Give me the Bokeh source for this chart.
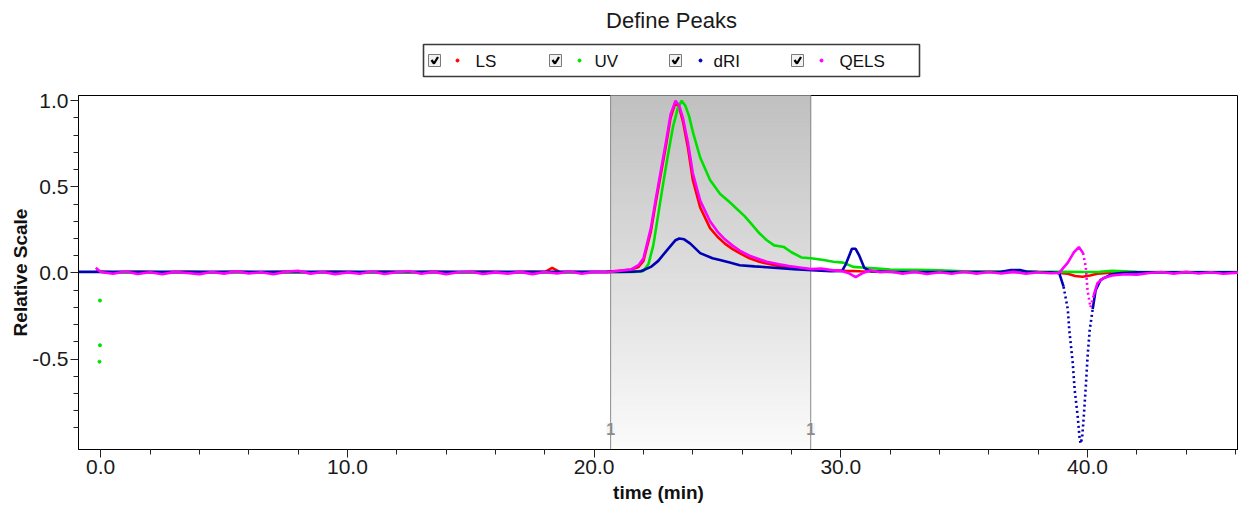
import numpy as np
from bokeh.plotting import figure
from bokeh.models import Range1d, FixedTicker, PrintfTickFormatter, Label
from bokeh.layouts import column
from bokeh.embed import file_html
from bokeh.resources import INLINE
from bokeh.core.properties import value

# ---------------- data ----------------
series_names = ["LS", "UV", "dRI", "QELS"]
series_colors = ["#ff0000", "#00e000", "#0000b4", "#ff00ff"]

peak_start = 20.67
peak_end = 28.78
peak_label = "1"

ls_time = [-0.2, 0.5, 1.5, 2.5, 3.5, 4.5, 5.5, 6.5, 7.5, 8.5,
           9.5, 10.5, 11.5, 12.5, 13.5, 14.5, 15.5, 16.5, 17.5, 18.0,
           18.3, 18.6, 19.5, 20.5, 21.0, 21.5, 21.8, 22.0, 22.3, 22.5,
           22.7, 22.9, 23.1, 23.3, 23.45, 23.6, 23.8, 24.0, 24.3, 24.7,
           25.0, 25.3, 25.6, 25.9, 26.3, 26.7, 27.0, 27.5, 27.9, 28.4,
           28.8, 29.5, 30.2, 30.8, 31.5, 32.5, 33.5, 34.5, 35.5, 36.5,
           37.5, 38.5, 39.2, 39.5, 39.8, 40.1, 40.4, 40.8, 41.5, 42.5,
           43.5, 44.5, 45.5, 46.2]
ls_value = [0.008, 0.004, 0.007, 0.003, 0.006, 0.004, 0.007, 0.003, 0.006, 0.004,
            0.007, 0.003, 0.006, 0.004, 0.007, 0.004, 0.006, 0.003, 0.006, 0.005,
            0.03, 0.006, 0.005, 0.007, 0.012, 0.02, 0.035, 0.07, 0.24, 0.41,
            0.57, 0.73, 0.9, 0.99, 0.96, 0.88, 0.73, 0.54, 0.38, 0.26,
            0.21, 0.17, 0.14, 0.115, 0.085, 0.065, 0.055, 0.04, 0.033, 0.025,
            0.02, 0.015, 0.012, 0.01, 0.008, 0.007, 0.006, 0.006, 0.005, 0.005,
            0.005, 0.004, -0.005, -0.018, -0.022, -0.015, -0.005, 0.0, 0.003, 0.004,
            0.004, 0.004, 0.004, 0.004]

uv_start_time = [-0.05, -0.03, -0.03]
uv_start_value = [-0.515, -0.42, -0.16]

uv_time = [0.1, 1.0, 2.0, 3.0, 4.0, 5.0, 6.0, 7.0, 8.0, 9.0,
           10.0, 11.0, 12.0, 13.0, 14.0, 15.0, 16.0, 17.0, 18.0, 19.0,
           20.0, 21.0, 21.6, 22.0, 22.2, 22.4, 22.6, 22.8, 23.0, 23.2,
           23.4, 23.55, 23.7, 23.85, 24.0, 24.3, 24.7, 25.1, 25.5, 25.8,
           26.1, 26.4, 26.7, 27.0, 27.3, 27.7, 28.0, 28.4, 28.8, 29.3,
           29.7, 30.1, 30.5, 31.0, 31.5, 32.0, 33.0, 34.0, 35.0, 36.0,
           37.0, 38.0, 39.0, 40.0, 40.5, 41.0, 41.5, 42.0, 43.0, 44.0,
           45.0, 46.2]
uv_value = [0.004, 0.003, 0.004, 0.003, 0.004, 0.003, 0.004, 0.003, 0.004, 0.003,
            0.004, 0.003, 0.004, 0.003, 0.004, 0.003, 0.004, 0.003, 0.004, 0.003,
            0.004, 0.004, 0.006, 0.012, 0.05, 0.16, 0.34, 0.52, 0.69, 0.85,
            0.96, 1.0, 0.97, 0.91, 0.82, 0.67, 0.54, 0.46, 0.41, 0.37,
            0.33, 0.28, 0.23, 0.19, 0.16, 0.15, 0.12, 0.09, 0.085, 0.075,
            0.065, 0.06, 0.035, 0.03, 0.025, 0.02, 0.018, 0.015, 0.01, 0.008,
            0.008, 0.006, 0.006, 0.005, 0.006, 0.012, 0.01, 0.006, 0.005, 0.005,
            0.005, 0.005]

dri_time = [-0.9, 2.0, 4.0, 6.0, 8.0, 10.0, 12.0, 14.0, 16.0, 18.0,
            20.0, 21.5, 21.9, 22.3, 22.6, 23.0, 23.3, 23.45, 23.65, 23.9,
            24.3, 24.8, 25.1, 25.5, 25.9, 26.5, 27.0, 28.1, 29.0, 29.6,
            30.05, 30.2, 30.45, 30.6, 30.75, 30.95, 31.2, 32.0, 33.0, 34.0,
            35.0, 36.0, 36.5, 36.9, 37.3, 37.6, 38.0, 38.5, 38.85, 39.03,
            39.2, 39.26, 39.4, 39.48, 39.6, 39.68, 39.72, 39.78, 39.85, 39.93,
            40.0, 40.09, 40.21, 40.33, 40.53, 40.94, 41.35, 42.0, 43.0, 44.0,
            45.0, 46.2]
dri_value = [0.006, 0.006, 0.006, 0.006, 0.006, 0.006, 0.006, 0.006, 0.006, 0.006,
             0.006, 0.007, 0.01, 0.035, 0.07, 0.14, 0.19, 0.2, 0.195, 0.17,
             0.115, 0.085, 0.075, 0.06, 0.045, 0.038, 0.033, 0.022, 0.014, 0.01,
             0.012, 0.05, 0.14, 0.14, 0.1, 0.03, 0.01, 0.006, 0.005, 0.005,
             0.005, 0.005, 0.006, 0.017, 0.016, 0.006, 0.005, 0.004, 0.0, -0.08,
             -0.21, -0.33, -0.52, -0.68, -0.83, -0.96, -0.99, -0.96, -0.83, -0.66,
             -0.49, -0.33, -0.21, -0.1, -0.04, -0.01, 0.0, 0.003, 0.004, 0.004,
             0.004, 0.004]

qels_time = [-0.2, 0.0, 0.5, 1.0, 1.5, 2.0, 2.5, 3.0, 3.5, 4.0,
             4.5, 5.0, 5.5, 6.0, 6.5, 7.0, 7.5, 8.0, 8.5, 9.0,
             9.5, 10.0, 10.5, 11.0, 11.5, 12.0, 12.5, 13.0, 13.5, 14.0,
             14.5, 15.0, 15.5, 16.0, 16.5, 17.0, 17.5, 18.0, 18.5, 19.0,
             19.5, 20.0, 20.5, 21.0, 21.5, 21.8, 22.0, 22.3, 22.5, 22.7,
             22.9, 23.1, 23.3, 23.45, 23.6, 23.8, 24.0, 24.3, 24.7, 25.0,
             25.3, 25.6, 25.9, 26.3, 26.7, 27.0, 27.5, 27.9, 28.4, 28.8,
             29.2, 29.7, 30.0, 30.3, 30.6, 30.9, 31.2, 31.6, 32.0, 32.5,
             33.0, 33.5, 34.0, 34.5, 35.0, 35.5, 36.0, 36.5, 37.0, 37.5,
             38.0, 38.5, 38.85, 39.2, 39.45, 39.65, 39.82, 39.93, 40.0, 40.12,
             40.25, 40.4, 40.65, 41.0, 41.5, 42.0, 42.5, 43.0, 43.5, 44.0,
             44.5, 45.0, 45.5, 46.2]
qels_value = [0.03, 0.005, -0.005, 0.008, -0.006, 0.004, -0.008, 0.006, 0.0, -0.007,
              0.005, -0.004, 0.009, -0.003, 0.004, -0.008, 0.006, 0.012, -0.004, 0.005,
              -0.007, 0.003, -0.005, 0.008, -0.006, 0.004, 0.01, -0.005, 0.006, -0.008,
              0.004, 0.007, -0.006, 0.003, -0.004, 0.006, -0.007, 0.005, -0.003, 0.008,
              -0.005, 0.006, 0.003, 0.012, 0.02, 0.045, 0.085, 0.26, 0.43, 0.59,
              0.75, 0.92, 1.0, 0.97, 0.9, 0.76, 0.58, 0.42, 0.3, 0.24,
              0.195, 0.16, 0.13, 0.1, 0.08, 0.065, 0.05, 0.04, 0.03, 0.022,
              0.025, 0.015, 0.012, 0.0, -0.025, 0.0, 0.015, 0.004, 0.008, -0.004,
              0.006, -0.006, 0.004, -0.005, 0.007, -0.004, 0.005, -0.003, 0.006, -0.005,
              0.004, -0.002, 0.0, 0.06, 0.12, 0.15, 0.115, 0.035, -0.1, -0.2,
              -0.13, -0.06, -0.03, -0.015, -0.008, -0.01, 0.0, 0.005, -0.004, 0.006,
              -0.003, 0.004, -0.005, 0.003]

x_major_ticks = [0, 10, 20, 30, 40]
x_minor_ticks = [2, 4, 6, 8, 12, 14, 16, 18, 22, 24, 26, 28, 32, 34, 36, 38, 42, 44, 46]
y_major_ticks = [-0.5, 0.0, 0.5, 1.0]
y_minor_ticks = [-0.9, -0.8, -0.7, -0.6, -0.4, -0.3, -0.2, -0.1,
                 0.1, 0.2, 0.3, 0.4, 0.6, 0.7, 0.8, 0.9]

for a, b in [(ls_time, ls_value), (uv_time, uv_value), (dri_time, dri_value), (qels_time, qels_value)]:
    assert len(a) == len(b), (len(a), len(b))

# ---------------- layout constants ----------------
FONT = "Liberation Sans"
W = 1238
HEADER_H = 83
MAIN_H = 505 - HEADER_H
FRAME_LEFT = 78
X0, X1 = -0.9, 46.12
Y0, Y1 = -1.025, 1.03

# ---------------- header (title + legend), data coords = page pixels ----------------
header = figure(width=W, height=HEADER_H, x_range=Range1d(FRAME_LEFT, W), y_range=Range1d(HEADER_H, 0),
                x_axis_type=None, y_axis_type=None, output_backend="svg",
                toolbar_location=None, min_border_left=FRAME_LEFT, min_border_right=0,
                min_border_top=0, min_border_bottom=0)
header.grid.visible = False
header.outline_line_color = None

header.text(x=[671], y=[20], text=["Define Peaks"], text_font=value(FONT),
            text_font_size="22px", text_align="center", text_baseline="middle",
            text_color="#1a1a1a")

header.quad(left=[423], right=[919], top=[44], bottom=[76], fill_color="white",
            line_color="#3a3a3a", line_width=1.6)

cb_left = [428, 549, 669, 791]
dot_x = [457, 579, 700, 821]
lab_x = [475, 594, 713, 839]
ymid = 60
header.rect(x=[c + 6 for c in cb_left], y=[ymid] * 4, width=12, height=12,
            fill_color="#f2f2f2", line_color="#7a7a7a", line_width=1)
header.multi_line(xs=[[c + 3, c + 5.5, c + 9.5] for c in cb_left],
                  ys=[[ymid - 0.5, ymid + 3, ymid - 3.5]] * 4,
                  line_color="black", line_width=2.3)
header.scatter(x=dot_x, y=[ymid] * 4, size=3, color=series_colors)
header.text(x=lab_x, y=[ymid + 1] * 4, text=series_names, text_font=value(FONT),
            text_font_size="17px", text_baseline="middle", text_align="left",
            text_color="#111111")

# ---------------- main plot ----------------
p = figure(width=W, height=MAIN_H, x_range=Range1d(X0, X1), y_range=Range1d(Y0, Y1),
           output_backend="svg", toolbar_location=None,
           min_border_left=FRAME_LEFT, min_border_right=0,
           min_border_top=95 - HEADER_H, min_border_bottom=54)
p.grid.visible = False
p.outline_line_color = "black"
p.outline_line_width = 1
p.background_fill_color = "white"

# gradient-shaded peak region
n_bands = 80
edges = np.linspace(Y0, Y1, n_bands + 1)
frac = (edges[:-1] + edges[1:]) / 2
frac = (frac - Y0) / (Y1 - Y0)
top_rgb = np.array([192, 192, 192])
bot_rgb = np.array([251, 251, 251])
band_colors = ["#%02x%02x%02x" % tuple(int(round(c)) for c in bot_rgb + (top_rgb - bot_rgb) * f) for f in frac]
p.quad(left=peak_start, right=peak_end, bottom=edges[:-1], top=edges[1:],
       fill_color=band_colors, line_color=band_colors, line_width=1)
p.segment(x0=[peak_start, peak_end], x1=[peak_start, peak_end], y0=[Y0, Y0], y1=[Y1, Y1],
          line_color="#8c8c8c", line_width=1)
for xb in [peak_start, peak_end]:
    p.add_layout(Label(x=xb, y=-0.905, text=peak_label, text_align="center",
                       text_baseline="middle", text_font=FONT, text_font_size="16px",
                       text_font_style="bold", text_color="#8a8a8a",
                       background_fill_color="#f5f5f5"))

# series
LW = 2.6
p.line(ls_time, ls_value, line_color=series_colors[0], line_width=LW)
p.line(uv_time, uv_value, line_color=series_colors[1], line_width=LW)
p.scatter(uv_start_time, uv_start_value, size=3, color=series_colors[1])

dri_t = np.array(dri_time)
dri_v = np.array(dri_value)
steep = (dri_t >= 39.03) & (dri_t <= 40.21)
before = dri_t <= 39.03
after = dri_t >= 40.21
p.line(dri_t[before], dri_v[before], line_color=series_colors[2], line_width=LW)
p.line(dri_t[steep], dri_v[steep], line_color=series_colors[2], line_width=LW, line_dash="2 3")
p.line(dri_t[after], dri_v[after], line_color=series_colors[2], line_width=LW)

q_t = np.array(qels_time)
q_v = np.array(qels_value)
q_before = q_t <= 39.82
q_steep = (q_t >= 39.82) & (q_t <= 40.25)
q_after = q_t >= 40.25
p.line(q_t[q_before], q_v[q_before], line_color=series_colors[3], line_width=LW)
p.line(q_t[q_steep], q_v[q_steep], line_color=series_colors[3], line_width=LW, line_dash="2 3")
p.line(q_t[q_after], q_v[q_after], line_color=series_colors[3], line_width=LW)

# axes
xa = p.xaxis[0]
xa.ticker = FixedTicker(ticks=x_major_ticks, minor_ticks=x_minor_ticks)
xa.formatter = PrintfTickFormatter(format="%.1f")
ya = p.yaxis[0]
ya.ticker = FixedTicker(ticks=y_major_ticks, minor_ticks=y_minor_ticks)
ya.formatter = PrintfTickFormatter(format="%.1f")
for ax in (xa, ya):
    ax.axis_line_color = "black"
    ax.major_tick_line_color = "#222222"
    ax.minor_tick_line_color = "#222222"
    ax.major_tick_in = 0
    ax.major_tick_out = 8
    ax.minor_tick_in = 0
    ax.minor_tick_out = 5
    ax.major_label_text_font = FONT
    ax.major_label_text_font_size = "21px"
    ax.major_label_text_color = "#1a1a1a"
    ax.axis_label_text_font = FONT
    ax.axis_label_text_font_size = "19px"
    ax.axis_label_text_font_style = "bold"
    ax.axis_label_text_color = "#111111"
    ax.major_label_standoff = 2
ya.axis_label = "Relative Scale"
ya.axis_label_standoff = -2
xa.axis_label = "time (min)"
xa.axis_label_standoff = 5

layout = column(header, p, spacing=0)
open("out.html", "w").write(file_html(layout, INLINE))
